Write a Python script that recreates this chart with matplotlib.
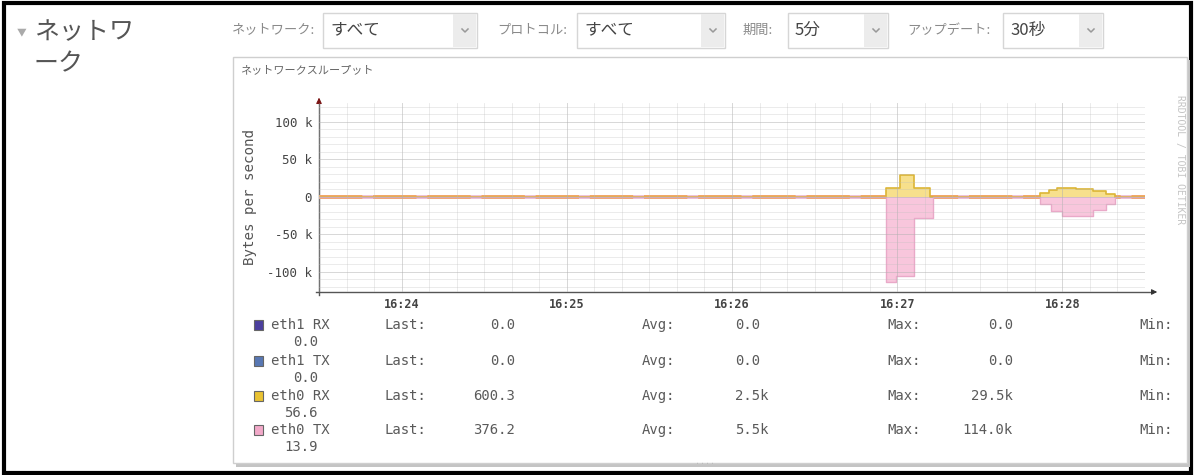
import matplotlib
matplotlib.use("Agg")
import matplotlib.pyplot as plt
from matplotlib.patches import Rectangle
import numpy as np

plt.rcParams['font.family'] = ['Noto Sans CJK JP', 'DejaVu Sans']
MONO = 'DejaVu Sans Mono'

# seconds after 16:23:30, kB/s, each value held until the next time
rx_t = [0, 206, 211, 216, 222, 262, 265, 268, 275, 281, 286, 289, 300]
rx_v = [0.4, 12.0, 29.5, 12.0, 0.4, 5.0, 9.0, 12.0, 11.0, 8.0, 4.0, 0.6003, 0.6003]
tx_t = [0, 206, 209.5, 216, 223, 262, 266, 270, 281, 286, 289, 300]
tx_v = [0.3, 114.0, 106.0, 28.0, 0.3, 10.0, 19.0, 26.0, 17.0, 9.0, 0.3762, 0.3762]

tick_pos = [30, 90, 150, 210, 270]
tick_labels = ['16:24', '16:25', '16:26', '16:27', '16:28']
ytick_vals = [-100, -50, 0, 50, 100]
ytick_labels = ['-100 k', '-50 k', '0', '50 k', '100 k']

series_names = ['eth1 RX', 'eth1 TX', 'eth0 RX', 'eth0 TX']
series_colors = ['#4b3f9e', '#5877b3', '#e9c232', '#f2a9c9']
last_vals = ['0.0', '0.0', '600.3', '376.2']
avg_vals = ['0.0', '0.0', '2.5k', '5.5k']
max_vals = ['0.0', '0.0', '29.5k', '114.0k']
min_vals = ['0.0', '0.0', '56.6', '13.9']

filter_labels = ['ネットワーク:', 'プロトコル:', '期間:', 'アップデート:']
filter_values = ['すべて', 'すべて', '5分', '30秒']

W, H = 1195, 475
fig = plt.figure(figsize=(W / 100, H / 100), dpi=100)
fig.patch.set_facecolor('white')

# page layer in pixel coordinates
ui = fig.add_axes([0, 0, 1, 1])
ui.set_xlim(0, W)
ui.set_ylim(H, 0)
ui.axis('off')

ui.add_patch(Rectangle((4, 3), W - 8, H - 5, fill=False, ec='black', lw=3))

# section heading
ui.text(17, 32, '▼', fontsize=7, color='#aaa', va='center')
ui.text(34, 32, 'ネットワ', fontsize=18, color='#555', va='center')
ui.text(34, 64, 'ーク', fontsize=18, color='#555', va='center')

# filter dropdowns
label_x = [232, 497, 743, 907]
box_x = [(323, 477), (577, 725), (788, 888), (1003, 1103)]
for lab, val, lx, (b0, b1) in zip(filter_labels, filter_values, label_x, box_x):
    ui.text(lx, 30, lab, fontsize=9.5, color='#8a8a8a', va='center')
    ui.add_patch(Rectangle((b0, 13), b1 - b0, 35, fc='white', ec='#d6d6d6', lw=1))
    ui.add_patch(Rectangle((b1 - 24, 14), 23, 33, fc='#ececec', ec='none'))
    ui.text(b0 + 7, 30, val, fontsize=12, color='#444', va='center')
    cx = b1 - 12
    ui.plot([cx - 3, cx, cx + 3], [29, 32, 29], color='#999', lw=1.1)

# chart panel
ui.add_patch(Rectangle((236, 60), 954, 407, fc='#c4c4c4', ec='none'))
ui.add_patch(Rectangle((233, 57), 954, 406, fc='white', ec='#cfcfcf', lw=1))
ui.text(240, 70, 'ネットワークスループット', fontsize=8, color='#666', va='center')
ui.text(705, 462, '....', fontsize=6, color='#bbb', ha='center', va='center', family=MONO)
ui.text(1180, 160, 'RRDTOOL / TOBI OETIKER', rotation=270, fontsize=7, color='#c4c4c4',
        ha='center', va='center', family=MONO)


def px_axes(x0, y0, x1, y1):
    return fig.add_axes([x0 / W, 1 - y1 / H, (x1 - x0) / W, (y1 - y0) / H])


ax = px_axes(319, 103, 1145, 292)
ax.set_xlim(0, 300)
ax.set_ylim(-126.7, 125.3)
ax.patch.set_alpha(0)
for s in ax.spines.values():
    s.set_visible(False)

# zero line under the areas
ax.axhline(0, color='#eab5cf', lw=2.6, zorder=0.8)
ax.axhline(0, color='#f3a04f', lw=2.6, dashes=(12, 3), zorder=0.9)

rx = np.array(rx_v)
tx = -np.array(tx_v)
ax.fill_between(rx_t, 0, rx, step='post', color='#f7e08c', lw=0, zorder=1)
ax.step(rx_t, rx, where='post', color='#dcb536', lw=1.2, zorder=1.1)
ax.fill_between(tx_t, 0, tx, step='post', color='#f8c6dc', lw=0, zorder=1)
ax.step(tx_t, tx, where='post', color='#e9a9c8', lw=1.0, zorder=1.1)

ax.set_xticks(tick_pos, tick_labels, family=MONO, fontsize=8.5, fontweight='bold', color='#444')
ax.set_xticks(np.arange(0, 301, 10), minor=True)
ax.set_yticks(ytick_vals, ytick_labels, family=MONO, fontsize=9, color='#444')
ax.set_yticks(np.arange(-120, 121, 10), minor=True)
ax.tick_params(which='both', length=0)
ax.tick_params(axis='x', pad=4)
ax.tick_params(axis='y', pad=5)
ax.set_axisbelow(False)
ax.grid(which='minor', color='#bdbdbd', alpha=0.35, lw=0.6)
ax.grid(which='major', color='#b0b0b0', alpha=0.5, lw=0.7)

# axis lines with arrow heads
ui.plot([316, 1150], [292, 292], color='#555', lw=1)
ui.plot([319, 319], [295, 100], color='#555', lw=1)
ui.annotate('', xy=(1160, 292), xytext=(1150, 292),
            arrowprops=dict(arrowstyle='-|>', color='#333', lw=0.8, mutation_scale=8))
ui.annotate('', xy=(319, 95), xytext=(319, 103),
            arrowprops=dict(arrowstyle='-|>', color='#7a1414', lw=0.8, mutation_scale=8))
ui.text(250, 197, 'Bytes per second', rotation=90, family=MONO, fontsize=10.2,
        color='#555', ha='center', va='center')

# legend block
row_y = [325, 361, 396, 430]
for y, name, col, lv, av, mv, mn in zip(row_y, series_names, series_colors,
                                         last_vals, avg_vals, max_vals, min_vals):
    ui.add_patch(Rectangle((254, y - 5), 9, 10, fc=col, ec='#666', lw=0.8))
    kw = dict(family=MONO, fontsize=10, color='#5a5a5a', va='center')
    ui.text(271, y, name, **kw)
    ui.text(385, y, 'Last:', **kw)
    ui.text(515, y, lv, ha='right', **kw)
    ui.text(642, y, 'Avg:', **kw)
    ui.text(735, y, av, **kw)
    ui.text(887, y, 'Max:', **kw)
    ui.text(1013, y, mv, ha='right', **kw)
    ui.text(1139, y, 'Min:', **kw)
    ui.text(318, y + 17, mn, ha='right', **kw)

fig.savefig('out.png', dpi=100)
